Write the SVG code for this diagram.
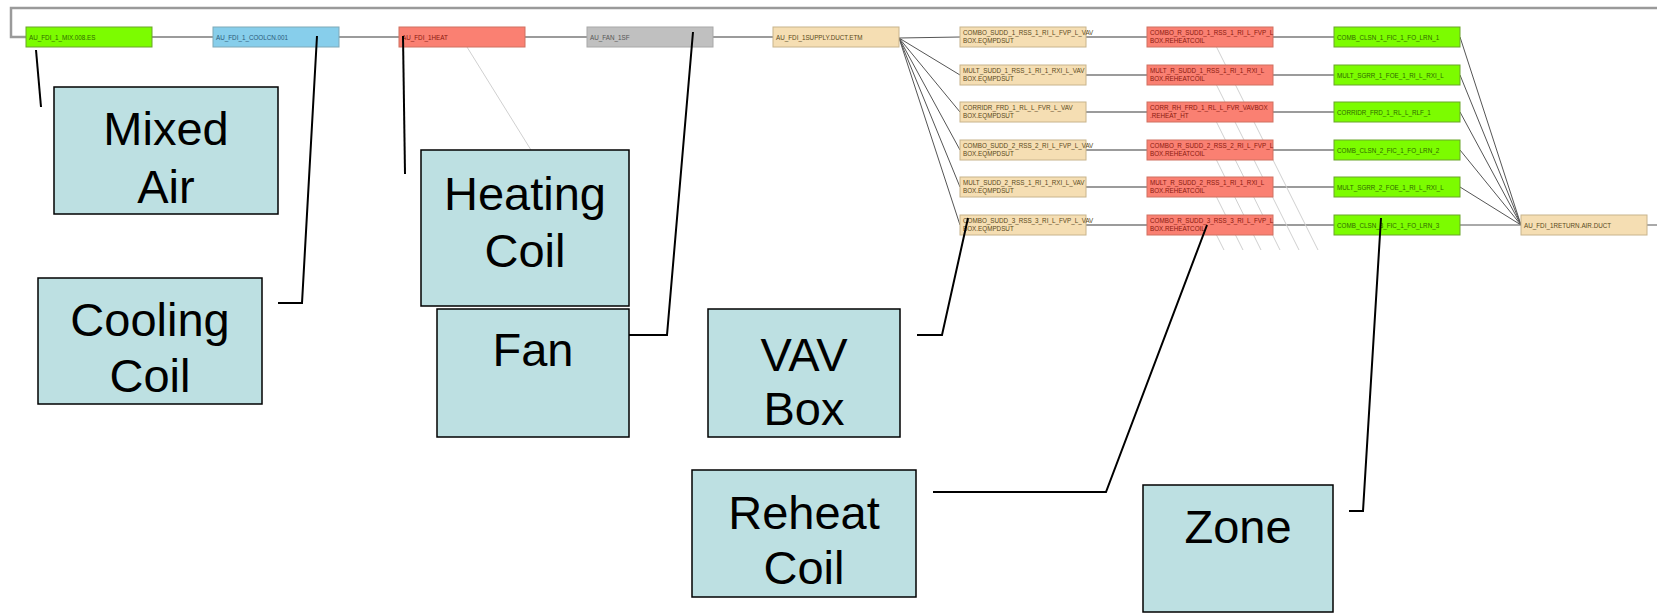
<svg xmlns="http://www.w3.org/2000/svg" width="1657" height="613" viewBox="0 0 1657 613">
<style>
.n rect{stroke:#9a9a9a;stroke-width:1}
.g rect{fill:#7cfc00;stroke:#6aa52a}
.b rect{fill:#87ceeb;stroke:#7fa9b8}
.r rect{fill:#fa8072;stroke:#d07060}
.y rect{fill:#c0c0c0;stroke:#a8a8a8}
.t rect{fill:#f5deb3;stroke:#c8b48c}
.n text{font-family:"Liberation Sans",Arial,sans-serif;font-size:6.3px;fill:#5a4a20}
.g text{fill:#2f6a00}
.b text{fill:#2a5a7a}
.r text{fill:#8a1a10}
.y text{fill:#555}
.c line,.c polyline{stroke:#7a7a7a;stroke-width:1.3;fill:none}
.c .f{stroke:#555;stroke-width:1}
.c .p{stroke:#d0d0d0;stroke-width:1}
.c .top{stroke:#9a9a9a;stroke-width:2.5}
.l line,.l polyline{stroke:#000;stroke-width:2;fill:none}
.cb rect{fill:#bde0e2;stroke:#000;stroke-width:1.5}
.cb text{font-family:"Liberation Sans",Arial,sans-serif;font-size:47px;fill:#000;text-anchor:middle}
</style>
<rect width="1657" height="613" fill="#fff"/>
<g id="connectors" class="c">
<polyline class="top" points="1657,8 11,8 11,37 26,37"/>
<line x1="152" y1="37" x2="213" y2="37"/>
<line x1="339" y1="37" x2="399" y2="37"/>
<line x1="525" y1="37" x2="587" y2="37"/>
<line x1="713" y1="37" x2="773" y2="37"/>
<line class="p" x1="467" y1="47" x2="531" y2="150"/>
<line class="f" x1="899" y1="38" x2="960" y2="37"/>
<line class="f" x1="899" y1="38" x2="960" y2="75"/>
<line class="f" x1="899" y1="38" x2="960" y2="112"/>
<line class="f" x1="899" y1="38" x2="960" y2="150"/>
<line class="f" x1="899" y1="38" x2="960" y2="187"/>
<line class="f" x1="899" y1="38" x2="960" y2="225"/>
<line x1="1086" y1="37" x2="1147" y2="37"/>
<line x1="1086" y1="75" x2="1147" y2="75"/>
<line x1="1086" y1="112" x2="1147" y2="112"/>
<line x1="1086" y1="150" x2="1147" y2="150"/>
<line x1="1086" y1="187" x2="1147" y2="187"/>
<line x1="1086" y1="225" x2="1147" y2="225"/>
<line x1="1273" y1="37" x2="1334" y2="37"/>
<line x1="1273" y1="75" x2="1334" y2="75"/>
<line x1="1273" y1="112" x2="1334" y2="112"/>
<line x1="1273" y1="150" x2="1334" y2="150"/>
<line x1="1273" y1="187" x2="1334" y2="187"/>
<line x1="1273" y1="225" x2="1334" y2="225"/>
<line class="p" x1="1213" y1="40" x2="1318" y2="250"/>
<line class="p" x1="1213" y1="78" x2="1299" y2="250"/>
<line class="p" x1="1213" y1="115" x2="1280" y2="250"/>
<line class="p" x1="1213" y1="153" x2="1261" y2="250"/>
<line class="p" x1="1213" y1="190" x2="1243" y2="250"/>
<line class="p" x1="1213" y1="228" x2="1224" y2="250"/>
<line class="f" x1="1460" y1="37" x2="1521" y2="225"/>
<line class="f" x1="1460" y1="75" x2="1521" y2="225"/>
<line class="f" x1="1460" y1="112" x2="1521" y2="225"/>
<line class="f" x1="1460" y1="150" x2="1521" y2="225"/>
<line class="f" x1="1460" y1="187" x2="1521" y2="225"/>
<line class="f" x1="1460" y1="225" x2="1521" y2="225"/>
<line x1="1647" y1="225" x2="1657" y2="225"/>
</g>
<g id="mixed-air-node" class="n g"><rect x="26" y="27" width="126" height="20"/><text x="29" y="40">AU_FDI_1_MIX.008.ES</text></g>
<g id="cooling-coil-node" class="n b"><rect x="213" y="27" width="126" height="20"/><text x="216" y="40">AU_FDI_1_COOLCN.001</text></g>
<g id="heating-coil-node" class="n r"><rect x="399" y="27" width="126" height="20"/><text x="402" y="40">AU_FDI_1HEAT</text></g>
<g id="fan-node" class="n y"><rect x="587" y="27" width="126" height="20"/><text x="590" y="40">AU_FAN_1SF</text></g>
<g id="supply-duct-node" class="n t"><rect x="773" y="27" width="126" height="20"/><text x="776" y="40">AU_FDI_1SUPPLY.DUCT.ETM</text></g>
<g id="vav-1" class="n t"><rect x="960" y="27" width="126" height="20"/><text x="963" y="35">COMBO_SUDD_1_RSS_1_RI_L_FVP_L_VAV</text><text x="963" y="43">BOX.EQMPDSUT</text></g>
<g id="vav-2" class="n t"><rect x="960" y="65" width="126" height="20"/><text x="963" y="73">MULT_SUDD_1_RSS_1_RI_1_RXI_L_VAV</text><text x="963" y="81">BOX.EQMPDSUT</text></g>
<g id="vav-3" class="n t"><rect x="960" y="102" width="126" height="20"/><text x="963" y="110">CORRIDR_FRD_1_RL_L_FVR_L_VAV</text><text x="963" y="118">BOX.EQMPDSUT</text></g>
<g id="vav-4" class="n t"><rect x="960" y="140" width="126" height="20"/><text x="963" y="148">COMBO_SUDD_2_RSS_2_RI_L_FVP_L_VAV</text><text x="963" y="156">BOX.EQMPDSUT</text></g>
<g id="vav-5" class="n t"><rect x="960" y="177" width="126" height="20"/><text x="963" y="185">MULT_SUDD_2_RSS_1_RI_1_RXI_L_VAV</text><text x="963" y="193">BOX.EQMPDSUT</text></g>
<g id="vav-6" class="n t"><rect x="960" y="215" width="126" height="20"/><text x="963" y="223">COMBO_SUDD_3_RSS_3_RI_L_FVP_L_VAV</text><text x="963" y="231">BOX.EQMPDSUT</text></g>
<g id="reheat-1" class="n r"><rect x="1147" y="27" width="126" height="20"/><text x="1150" y="35">COMBO_R_SUDD_1_RSS_1_RI_L_FVP_L</text><text x="1150" y="43">BOX.REHEATCOIL</text></g>
<g id="reheat-2" class="n r"><rect x="1147" y="65" width="126" height="20"/><text x="1150" y="73">MULT_R_SUDD_1_RSS_1_RI_1_RXI_L</text><text x="1150" y="81">BOX.REHEATCOIL</text></g>
<g id="reheat-3" class="n r"><rect x="1147" y="102" width="126" height="20"/><text x="1150" y="110">CORR_RH_FRD_1_RL_L_FVR_VAVBOX</text><text x="1150" y="118">.REHEAT_HT</text></g>
<g id="reheat-4" class="n r"><rect x="1147" y="140" width="126" height="20"/><text x="1150" y="148">COMBO_R_SUDD_2_RSS_2_RI_L_FVP_L</text><text x="1150" y="156">BOX.REHEATCOIL</text></g>
<g id="reheat-5" class="n r"><rect x="1147" y="177" width="126" height="20"/><text x="1150" y="185">MULT_R_SUDD_2_RSS_1_RI_1_RXI_L</text><text x="1150" y="193">BOX.REHEATCOIL</text></g>
<g id="reheat-6" class="n r"><rect x="1147" y="215" width="126" height="20"/><text x="1150" y="223">COMBO_R_SUDD_3_RSS_3_RI_L_FVP_L</text><text x="1150" y="231">BOX.REHEATCOIL</text></g>
<g id="zone-1" class="n g"><rect x="1334" y="27" width="126" height="20"/><text x="1337" y="40">COMB_CLSN_1_FIC_1_FO_LRN_1</text></g>
<g id="zone-2" class="n g"><rect x="1334" y="65" width="126" height="20"/><text x="1337" y="78">MULT_SGRR_1_FOE_1_RI_L_RXI_L</text></g>
<g id="zone-3" class="n g"><rect x="1334" y="102" width="126" height="20"/><text x="1337" y="115">CORRIDR_FRD_1_RL_L_RLF_1</text></g>
<g id="zone-4" class="n g"><rect x="1334" y="140" width="126" height="20"/><text x="1337" y="153">COMB_CLSN_2_FIC_1_FO_LRN_2</text></g>
<g id="zone-5" class="n g"><rect x="1334" y="177" width="126" height="20"/><text x="1337" y="190">MULT_SGRR_2_FOE_1_RI_L_RXI_L</text></g>
<g id="zone-6" class="n g"><rect x="1334" y="215" width="126" height="20"/><text x="1337" y="228">COMB_CLSN_3_FIC_1_FO_LRN_3</text></g>
<g id="return-node" class="n t"><rect x="1521" y="215" width="126" height="20"/><text x="1524" y="228">AU_FDI_1RETURN.AIR.DUCT</text></g>
<g id="callout-leaders" class="l">
<line x1="36" y1="50" x2="41" y2="107"/>
<polyline points="278,303 302,303 317,36"/>
<line x1="403" y1="36" x2="405" y2="174"/>
<polyline points="629,335 667,335 693,32"/>
<polyline points="917,335 942,335 968,218"/>
<polyline points="933,492 1106,492 1207,225"/>
<polyline points="1349,511 1363,511 1381,218"/>
</g>
<g id="callout-mixed-air" class="cb"><rect x="54" y="87" width="224" height="127"/><text x="166" y="145">Mixed</text><text x="166" y="203">Air</text></g>
<g id="callout-cooling-coil" class="cb"><rect x="38" y="278" width="224" height="126"/><text x="150" y="336">Cooling</text><text x="150" y="392">Coil</text></g>
<g id="callout-heating-coil" class="cb"><rect x="421" y="150" width="208" height="156"/><text x="525" y="210">Heating</text><text x="525" y="267">Coil</text></g>
<g id="callout-fan" class="cb"><rect x="437" y="309" width="192" height="128"/><text x="533" y="366">Fan</text></g>
<g id="callout-vav-box" class="cb"><rect x="708" y="309" width="192" height="128"/><text x="804" y="371">VAV</text><text x="804" y="425">Box</text></g>
<g id="callout-reheat-coil" class="cb"><rect x="692" y="470" width="224" height="127"/><text x="804" y="529">Reheat</text><text x="804" y="584">Coil</text></g>
<g id="callout-zone" class="cb"><rect x="1143" y="485" width="190" height="127"/><text x="1238" y="543">Zone</text></g>
</svg>
